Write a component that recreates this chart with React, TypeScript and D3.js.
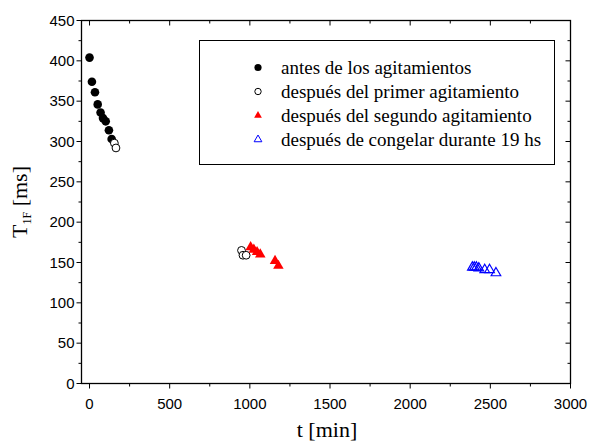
import React from "react";
import * as d3 from "d3";

const antesT = [0, 15, 34, 51, 69, 84, 101, 121, 138];
const antesV = [404, 374, 361, 346, 336, 329, 325, 314, 303];
const primerT = [155, 165, 948, 957, 977];
const primerV = [298, 292, 165, 159, 159];
const segundoT = [1005, 1025, 1045, 1065, 1157, 1178];
const segundoV = [169, 166, 163, 160, 152, 146];
const congelarT = [2388, 2400, 2413, 2428, 2465, 2495, 2535];
const congelarV = [144, 144, 144, 143, 141, 141, 137];

const xTicks = [0, 500, 1000, 1500, 2000, 2500, 3000];
const yTicks = [0, 50, 100, 150, 200, 250, 300, 350, 400, 450];
const legendLabels = [
  "antes de los agitamientos",
  "después del primer agitamiento",
  "después del segundo agitamiento",
  "después de congelar durante 19 hs",
];

const W = 590, H = 444;
const L = 81.5, R = 570.5, T = 20.5, B = 383.5;
const x = d3.scaleLinear().domain([-50, 3000]).range([L, R]);
const y = d3.scaleLinear().domain([0, 450]).range([B, T]);

const sans = "'Liberation Sans', Arial, sans-serif";
const serif = "'Liberation Serif', 'Times New Roman', serif";

const triPath = (s: number) => d3.symbol().type(d3.symbolTriangle).size(s)()!;

export default function App() {
  const xMinor = d3.range(0, 3001, 250);
  const yMinor = d3.range(0, 451, 25);
  const bigTri = triPath(48);
  const bigTriOpen = triPath(40);
  const smallTri = triPath(26);
  return (
    <svg width={W} height={H} style={{ position: "absolute", left: 0, top: 0, background: "#fff" }}
      fontFamily={sans}>
      <rect x={0} y={0} width={W} height={H} fill="#fff" />
      {/* ticks */}
      <g stroke="#000" strokeWidth={1}>
        {xMinor.map((v) => {
          const major = v % 500 === 0;
          const len = major ? 5 : 3;
          return (
            <g key={"x" + v}>
              <line x1={x(v)} x2={x(v)} y1={B} y2={B + len} />
              <line x1={x(v)} x2={x(v)} y1={T} y2={T + len} />
            </g>
          );
        })}
        {yMinor.map((v) => {
          const major = v % 50 === 0;
          const len = major ? 5 : 3;
          return (
            <g key={"y" + v}>
              <line x1={L - len} x2={L} y1={y(v)} y2={y(v)} />
              <line x1={R - len} x2={R} y1={y(v)} y2={y(v)} />
            </g>
          );
        })}
      </g>
      <rect x={L} y={T} width={R - L} height={B - T} fill="none" stroke="#000" strokeWidth={1.3} />
      {/* tick labels */}
      {xTicks.map((v) => (
        <text key={"xl" + v} x={x(v)} y={409} fontSize={15} textAnchor="middle">{v}</text>
      ))}
      {yTicks.map((v) => (
        <text key={"yl" + v} x={L - 7} y={y(v) + 5.3} fontSize={15} textAnchor="end">{v}</text>
      ))}
      {/* axis titles */}
      <text x={327} y={437} fontSize={22} fontFamily={serif} textAnchor="middle">t [min]</text>
      <text transform={`translate(27,${(T + B) / 2}) rotate(-90)`} fontSize={22} fontFamily={serif} textAnchor="middle">
        T<tspan fontSize={12} dy={4}>1F</tspan><tspan dy={-4}> [ms]</tspan>
      </text>
      {/* data */}
      {antesT.map((t, i) => (
        <circle key={"a" + i} cx={x(t)} cy={y(antesV[i])} r={4.3} fill="#000" />
      ))}
      {primerT.map((t, i) => (
        <circle key={"p" + i} cx={x(t)} cy={y(primerV[i])} r={3.9} fill="#fff" stroke="#000" strokeWidth={1} />
      ))}
      {segundoT.map((t, i) => (
        <path key={"s" + i} d={bigTri} transform={`translate(${x(t)},${y(segundoV[i])})`} fill="#ff0000" />
      ))}
      {congelarT.map((t, i) => (
        <path key={"c" + i} d={bigTriOpen} transform={`translate(${x(t)},${y(congelarV[i])})`} fill="none" stroke="#0000ff" strokeWidth={1.2} />
      ))}
      {/* legend */}
      <rect x={199.5} y={40.5} width={355} height={124} fill="#fff" stroke="#000" strokeWidth={1} />
      {legendLabels.map((lab, i) => {
        const by = 73.5 + i * 24;
        const cy = by - 6;
        return (
          <g key={"lg" + i}>
            {i === 0 && <circle cx={258} cy={cy} r={3.6} fill="#000" />}
            {i === 1 && <circle cx={258} cy={cy} r={3.2} fill="#fff" stroke="#000" strokeWidth={1} />}
            {i === 2 && <path d={smallTri} transform={`translate(258,${cy})`} fill="#ff0000" />}
            {i === 3 && <path d={smallTri} transform={`translate(258,${cy})`} fill="none" stroke="#0000ff" strokeWidth={1} />}
            <text x={281} y={by} fontSize={19} fontFamily={serif}>{lab}</text>
          </g>
        );
      })}
    </svg>
  );
}
